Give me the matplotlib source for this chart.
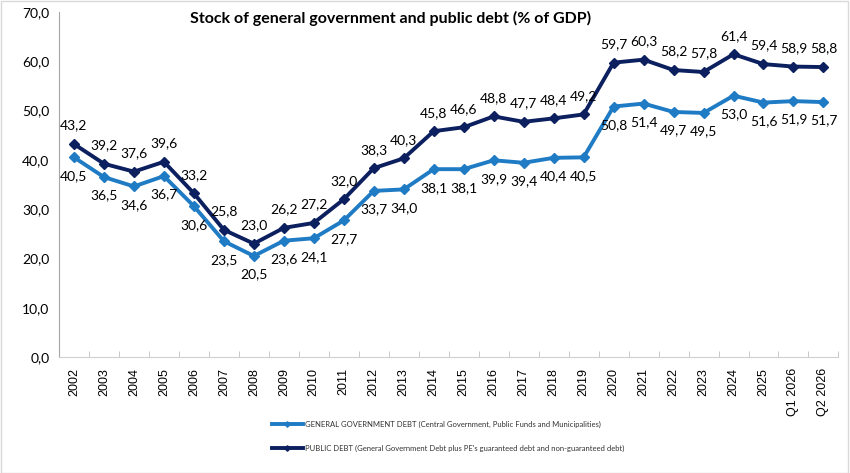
import numpy as np
import matplotlib
matplotlib.use('Agg')
import matplotlib.pyplot as plt
from matplotlib.ticker import FuncFormatter

# categories
periods = ['2002', '2003', '2004', '2005', '2006', '2007', '2008', '2009', '2010',
           '2011', '2012', '2013', '2014', '2015', '2016', '2017', '2018', '2019',
           '2020', '2021', '2022', '2023', '2024', '2025', 'Q1 2026', 'Q2 2026']
# general government debt (% of GDP)
gen_debt = [40.5, 36.5, 34.6, 36.7, 30.6, 23.5, 20.5, 23.6, 24.1, 27.7, 33.7, 34.0, 38.1,
            38.1, 39.9, 39.4, 40.4, 40.5, 50.8, 51.4, 49.7, 49.5, 53.0, 51.6, 51.9, 51.7]
# public debt (% of GDP)
pub_debt = [43.2, 39.2, 37.6, 39.6, 33.2, 25.8, 23.0, 26.2, 27.2, 32.0, 38.3, 40.3, 45.8,
            46.6, 48.8, 47.7, 48.4, 49.2, 59.7, 60.3, 58.2, 57.8, 61.4, 59.4, 58.9, 58.8]

c_gen = '#1f7bc4'
c_pub = '#0c1f5e'

plt.rcParams['font.family'] = ['Lato', 'DejaVu Sans']

fig = plt.figure(figsize=(8.5, 4.73), dpi=100)
ax = fig.add_axes([0.0694, 0.245, 0.917, 0.73])

x = np.arange(len(periods))
l1, = ax.plot(x, gen_debt, color=c_gen, lw=2.8, marker='D', ms=5.5,
              label='GENERAL GOVERNMENT DEBT (Central Government, Public Funds and Municipalities)')
l2, = ax.plot(x, pub_debt, color=c_pub, lw=2.8, marker='D', ms=5.5,
              label="PUBLIC DEBT (General Government Debt plus PE's guaranteed debt and non-guaranteed debt)")

def fmt(v):
    return ('%.1f' % v).replace('.', ',')

for i in range(len(x)):
    ax.annotate(fmt(pub_debt[i]), (x[i], pub_debt[i]), xytext=(0, 9), textcoords='offset points',
                ha='center', va='bottom', fontsize=10, color='black')
    ax.annotate(fmt(gen_debt[i]), (x[i], gen_debt[i]), xytext=(0, -9), textcoords='offset points',
                ha='center', va='top', fontsize=10, color='black')

ax.set_xlim(-0.5, len(periods) - 0.5)
ax.set_ylim(0, 70)
ax.set_yticks(np.arange(0, 71, 10))
ax.yaxis.set_major_formatter(FuncFormatter(lambda v, p: fmt(v)))
ax.set_xticks(x)
ax.set_xticklabels(periods, rotation=90, fontsize=9, family='Liberation Sans')
ax.set_xticks(np.arange(-0.5, len(periods), 1), minor=True)
ax.tick_params(axis='x', which='major', length=0, pad=8)
ax.tick_params(axis='x', which='minor', length=4, direction='in', color='#bfbfbf')
ax.tick_params(axis='y', length=0, labelsize=10, pad=7)

for s in ['top', 'right']:
    ax.spines[s].set_visible(False)
ax.spines['left'].set_color('#a6a6a6')
ax.spines['bottom'].set_color('#d0d0d0')

fig.text(0.46, 0.962, 'Stock of general government and public debt (% of GDP)',
         ha='center', va='center', fontsize=11.5, fontweight='bold')

leg = fig.legend(handles=[l1, l2], loc='upper left', bbox_to_anchor=(0.312, 0.125),
                 frameon=False, fontsize=5.5, labelspacing=2.2, handlelength=4,
                 handletextpad=0.3, markerscale=0.5)
for t in leg.get_texts():
    t.set_color('#333333')

fig.patches.append(plt.Rectangle((0.001, 0.001), 0.997, 0.997, transform=fig.transFigure,
                                 fill=False, edgecolor='#d9d9d9', lw=1))

fig.savefig('out.png', dpi=100)
